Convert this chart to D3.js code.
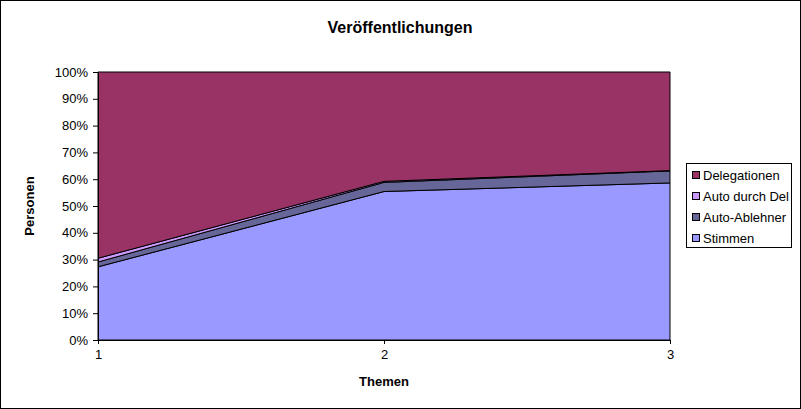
<!DOCTYPE html>
<html>
    <head>
        <meta charset="utf-8">
        <title>Veröffentlichungen</title>
        <script src="https://d3js.org/d3.v7.min.js"></script>
        <style>
            body { margin: 0; background: #fff; }
            text { font-family: Arial, "Liberation Sans", sans-serif; }
        </style>
    </head>
    <body>
        <script>
            // Data (share of each group per topic)
            const themen = [1, 2, 3];
            const keys = ["Stimmen", "Auto-Ablehner", "Auto durch Del", "Delegationen"];
            const stimmen = [27.3, 55.4, 58.6];
            const autoAblehner = [1.8, 3.4, 4.5];
            const autoDurchDel = [1.4, 0.4, 0.1];
            const delegationen = [69.5, 40.8, 36.8];
            const colors = ["#9999ff", "#666699", "#cc99ff", "#993366"];
            const yTicks = [0, 0.1, 0.2, 0.3, 0.4, 0.5, 0.6, 0.7, 0.8, 0.9, 1];

            const rows = themen.map((t, i) => ({
                thema: t,
                "Stimmen": stimmen[i],
                "Auto-Ablehner": autoAblehner[i],
                "Auto durch Del": autoDurchDel[i],
                "Delegationen": delegationen[i]
            }));

            const svgWidth = 801;
            const svgHeight = 409;
            const margin = { top: 72, right: 131, bottom: 69, left: 98 };

            const svg = d3.select("body")
                .append("svg")
                    .attr("width", svgWidth)
                    .attr("height", svgHeight);

            // outer frame
            svg.append("rect")
                .attr("x", 0.5).attr("y", 0.5)
                .attr("width", svgWidth - 1).attr("height", svgHeight - 1)
                .attr("fill", "#fff").attr("stroke", "#000");

            const xScale = d3.scaleLinear()
                .domain([1, 3])
                .range([margin.left, svgWidth - margin.right]);

            const yScale = d3.scaleLinear()
                .domain([0, 1])
                .range([svgHeight - margin.bottom, margin.top]);

            const stack = d3.stack()
                .keys(keys)
                .offset(d3.stackOffsetExpand);
            const series = stack(rows);

            const area = d3.area()
                .x(d => xScale(d.data.thema))
                .y0(d => yScale(d[0]))
                .y1(d => yScale(d[1]));

            svg.append("g")
                .selectAll("path")
                .data(series)
                .join("path")
                    .attr("d", area)
                    .attr("fill", (d, i) => colors[i])
                    .attr("stroke", "#000")
                    .attr("stroke-width", 1)
                    .attr("stroke-linejoin", "round");

            // Axes
            const xAxis = d3.axisBottom(xScale)
                .tickValues(themen)
                .tickFormat(d3.format("d"))
                .tickSizeInner(4)
                .tickSizeOuter(0)
                .tickPadding(6);
            const yAxis = d3.axisLeft(yScale)
                .tickValues(yTicks)
                .tickFormat(d3.format(".0%"))
                .tickSizeInner(5)
                .tickSizeOuter(0)
                .tickPadding(5);

            const gx = svg.append("g")
                .attr("transform", `translate(0,${yScale(0)})`)
                .call(xAxis);
            const gy = svg.append("g")
                .attr("transform", `translate(${margin.left},0)`)
                .call(yAxis);

            [gx, gy].forEach(g => {
                g.selectAll("path, line").attr("stroke", "#000");
                g.selectAll("text")
                    .attr("fill", "#000")
                    .style("font-size", "13px")
                    .style("font-family", "Arial, 'Liberation Sans', sans-serif");
            });

            // Titles
            svg.append("text")
                .attr("x", 400).attr("y", 33)
                .attr("text-anchor", "middle")
                .style("font-size", "16px")
                .style("font-weight", "bold")
                .text("Veröffentlichungen");

            svg.append("text")
                .attr("x", 384).attr("y", 386)
                .attr("text-anchor", "middle")
                .style("font-size", "13px")
                .style("font-weight", "bold")
                .text("Themen");

            svg.append("text")
                .attr("transform", `translate(34,${(yScale(0) + yScale(1)) / 2}) rotate(-90)`)
                .attr("text-anchor", "middle")
                .style("font-size", "13px")
                .style("font-weight", "bold")
                .text("Personen");

            // Legend
            const legend = svg.append("g").attr("transform", "translate(686,163)");
            legend.append("rect")
                .attr("x", 0.5).attr("y", 0.5)
                .attr("width", 105).attr("height", 84)
                .attr("fill", "#fff").attr("stroke", "#000");

            const legendKeys = keys.slice().reverse();
            const legendColors = colors.slice().reverse();
            const item = legend.selectAll("g.item")
                .data(legendKeys)
                .join("g")
                    .attr("class", "item")
                    .attr("transform", (d, i) => `translate(6,${12 + i * 21})`);
            item.append("rect")
                .attr("x", 0.5).attr("y", -3.5)
                .attr("width", 7).attr("height", 7)
                .attr("fill", (d, i) => legendColors[i])
                .attr("stroke", "#000");
            item.append("text")
                .attr("x", 11).attr("y", 5)
                .style("font-size", "13px")
                .text(d => d);
        </script>
    </body>
</html>
